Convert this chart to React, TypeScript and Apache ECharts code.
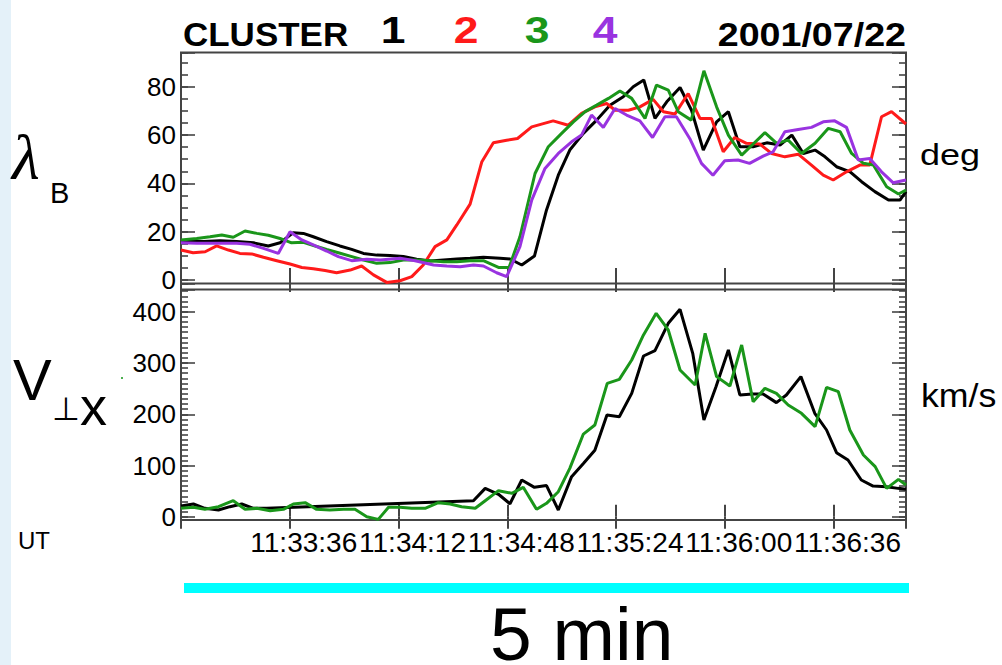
import React, { useEffect, useRef } from 'react';
import * as echarts from 'echarts';

// time axis: seconds after 11:33:00 UT
const xTickLabels = ['11:33:36', '11:34:12', '11:34:48', '11:35:24', '11:36:00', '11:36:36'];
const xTickStep = 36;
const xMin = 0;
const xMax = 240;

// lambda_B (deg)
const lambdaC1: [number, number][] = [[0,16.3],[7.4,15.9],[12.9,16.3],[18.4,15.9],[24,15.4],[28.9,14.1],[32.8,15.4],[37.2,19.6],[40.5,19.3],[43.8,17.9],[48.2,15.9],[52.6,14.1],[56.5,12.7],[60.4,11],[64.8,10.3],[69.2,10.1],[73.6,9.7],[78,8.6],[82.5,7.9],[86.9,8.3],[91.3,8.7],[95.7,9],[100.1,9.4],[105.6,9],[108.9,8.7],[112.8,6.2],[117,9.9],[121,29],[124.9,43.4],[128.7,53.8],[133.2,60.7],[137.6,66.2],[142,72.4],[146.4,75.9],[149.7,80],[153.2,82.8],[156.9,66.9],[160.8,73.8],[165.2,79.7],[169,70.3],[172.9,53.8],[177.3,65.5],[181.2,69.7],[185,55.2],[189.4,55.2],[193.9,56.8],[198.3,55.9],[202.2,60],[206,52.4],[209.9,53.8],[213.2,51],[217,46.9],[221.5,44.8],[225.3,40.7],[229.7,36.6],[234.2,33.1],[238,33.1],[240,36.6]];
const lambdaC2: [number, number][] = [[0,12.4],[4,11.3],[8,11.7],[11.8,14.1],[15.7,12.4],[19.5,11],[23.4,10.8],[27.3,9.4],[31.7,8],[36.1,6.6],[40,5.2],[43.8,4.7],[47.7,3.9],[51.5,3],[56,4.1],[59.8,5.8],[63.7,2.1],[68.1,-1],[72.5,-0.3],[76.4,1.4],[80.2,6.2],[84.1,13.8],[88,16.6],[91.3,22.8],[95.7,31.4],[99.6,49],[103.4,56.8],[107.8,57.9],[111.4,58.6],[116.1,63.4],[123.2,65.9],[128.2,64.1],[132.6,69],[137,71.7],[140.9,73.1],[143.7,70.3],[148.1,70.3],[151.9,71.7],[156.3,74.8],[159.7,69.7],[163.5,68.7],[167.9,77.2],[171.8,66.9],[175.6,66.9],[179.5,53.1],[183.3,59],[187.2,56.6],[191.6,56.3],[195.5,52.4],[199.9,51],[204.3,52.1],[208.7,47.6],[212.6,43.4],[215.9,41.4],[220.3,44.8],[224.7,47.6],[228,47.6],[231.9,67.6],[235.2,69.7],[240,64.6]];
const lambdaC3: [number, number][] = [[0,16.6],[5.2,17.2],[9.6,17.9],[13.5,18.6],[17.3,17.7],[21.2,20.3],[25.1,19.3],[28.9,18.5],[32.8,17.2],[36.6,15.4],[40.5,15.6],[44.4,14.1],[48.2,12.7],[52.1,11.3],[56,9.9],[60.4,8.3],[64.8,6.9],[69.2,7.2],[73.6,8.3],[78,8.3],[82.5,8],[86.9,7.6],[91.3,7.6],[95.7,8],[100.1,8],[105.1,5.2],[108.6,5.2],[112.2,17.9],[117.2,44.1],[121.6,55.2],[126,60.7],[129.9,65.5],[133.8,69.7],[137.6,72.4],[141.5,75.2],[145.3,78.3],[149.2,75.2],[153.6,66.9],[157.4,80.7],[161.3,78.6],[164.6,69.7],[168.9,66.2],[173.1,86.6],[177.3,71.7],[181.2,60],[185.6,51.7],[189.4,56.3],[193.3,61],[197.2,56.6],[201,57.9],[205.4,52.4],[209.9,56.6],[214.3,62.8],[218.2,61.4],[222,52.4],[225.9,48.3],[229.2,47.6],[233.6,38.6],[237.5,35.6],[240,37.2]];
const lambdaC4: [number, number][] = [[0,15.4],[5.2,15.2],[9.6,15.2],[14,15.2],[18.4,15.2],[22.8,14.8],[27.3,13.1],[32.2,11],[36.1,20],[40,16.6],[43.8,14.5],[48.2,12],[52.1,9.7],[56.5,8],[61.5,8.6],[65.9,8.3],[72.5,9],[77.5,8],[83.6,6.2],[88,5.8],[92.4,5.5],[96.8,6.2],[100.1,5.8],[104.5,3],[107.8,1.4],[112.2,13.8],[116.1,33.1],[120.5,46.2],[124.9,52.4],[129.3,57.2],[132.6,60],[135.9,68.3],[139.8,63.2],[143.7,71],[147.5,68.3],[151.9,65.9],[156.1,59],[160.2,67.6],[164,67.6],[168.4,58.6],[172.3,48.3],[176.1,43.4],[180,49.4],[184.4,49.7],[188.2,48.3],[192.7,51.3],[196,53.1],[199.9,61.4],[204.3,62.3],[208.7,63.2],[212.6,65.5],[216.4,65.9],[220.3,63.2],[224.2,49.7],[228,50.3],[231.9,44.8],[235.7,40.3],[240,41.4]];

// V_perp x (km/s)
const vxC1: [number, number][] = [[0,21],[4.1,25],[7.9,16.6],[12.4,13.3],[16.2,19.8],[20.1,25],[24,16.6],[28.4,16.6],[96.8,31.4],[100.7,55.5],[105.1,44],[108.9,25.5],[112.8,71.8],[117,57.5],[121,61],[124.9,13.3],[129.3,78.3],[133.2,104],[137,130],[141,198.6],[145.1,195.3],[149.2,240.8],[153.1,313.6],[156.9,324],[161.3,377.4],[165.2,404.7],[169.4,318.9],[173.1,188.9],[177.1,253.8],[181.2,325.4],[185,237.6],[189.2,239.6],[192.7,239.6],[197.1,222.7],[200.4,237.6],[205.2,273.4],[209.8,201.8],[213.7,169.3],[217,125],[220.8,110.8],[225.2,71.8],[229.1,60],[233.5,58.8],[237.4,55.5],[240,53.6]];
const vxC3: [number, number][] = [[0,16.6],[4.1,18.5],[7.9,14.6],[12.4,19.8],[17.3,31.4],[21.2,14.6],[25.1,16.6],[29.5,12],[33.9,14.6],[37.2,25],[41.1,27.6],[44.9,14.6],[49.3,13.3],[53.8,14.6],[57.6,14.6],[61.5,0.3],[65.3,-5],[68.7,18.5],[72.5,18.5],[76.4,16.6],[80.8,16.6],[85.2,27.6],[89.1,25],[92.9,19.8],[97.4,16.6],[100.7,31.4],[105.1,51],[109.5,45.8],[113.3,57.5],[117.7,14.6],[121,26.3],[124.9,49],[128.7,94.5],[133.2,161.4],[137,179],[141.1,260.3],[145.1,268],[149.2,305.8],[153.1,354.6],[157.3,396.9],[161.3,364.4],[165.2,286.4],[170.2,257.1],[173.5,357.9],[177.3,273.4],[181.7,255.1],[185.6,335.2],[189.4,224.6],[193.3,250.6],[197.1,240.8],[201,218],[205.4,201.8],[209.9,175.8],[213.7,252.5],[217.6,244],[221.4,169.3],[225.9,120.5],[229.8,97.8],[233.6,55.5],[237.5,73.1],[240,62]];

const C_BLACK = '#000000';
const C_RED = '#ff1a1a';
const C_GREEN = '#1a961a';
const C_PURPLE = '#9933e0';
const AXIS_C = '#444444';
const FONT = '"Liberation Sans", Arial, Helvetica, sans-serif';

function xAxis(gridIndex: number, position: string, labels: boolean) {
  return {
    type: 'value', gridIndex, position, min: xMin, max: xMax, interval: xTickStep,
    axisLine: { show: false },
    splitLine: { show: false },
    axisTick: { show: true, inside: true, length: 12, lineStyle: { color: AXIS_C, width: 2 } },
    axisLabel: labels ? {
      show: true, margin: 8, fontSize: 28, color: '#000', fontFamily: FONT,
      padding: [0, 0, 0, 28],
      formatter: (v: number) => {
        const i = Math.round(v / xTickStep) - 1;
        return v > xMin && v < xMax && xTickLabels[i] ? xTickLabels[i] : '';
      },
    } : { show: false },
  };
}

function yAxis(gridIndex: number, position: string, min: number, max: number, step: number, len: number, labels: boolean) {
  return {
    type: 'value', gridIndex, position, min, max, minInterval: step, maxInterval: step, splitNumber: 5,
    axisLine: { show: false },
    splitLine: { show: false },
    axisTick: { show: true, inside: true, length: len, lineStyle: { color: AXIS_C, width: 1.6 } },
    axisLabel: labels ? {
      show: true, margin: 5, fontSize: 26, color: '#000', fontFamily: FONT,
      formatter: (v: number) => (Math.abs(v - Math.round(v / step) * step) < 1e-6 ? String(Math.round(v)) : ''),
    } : { show: false },
  };
}

function line(data: [number, number][], color: string, xi: number, yi: number, z: number) {
  return {
    type: 'line', data, xAxisIndex: xi, yAxisIndex: yi, symbol: 'none', z,
    lineStyle: { color, width: 3 }, itemStyle: { color }, clip: true,
  };
}

function txt(text: string, x: number, y: number, font: string, opts: any = {}) {
  return {
    type: 'text', x, y, scaleX: opts.scaleX ?? 1,
    style: {
      text, font, fill: opts.fill ?? '#000', textAlign: opts.align ?? 'left', textVerticalAlign: 'middle',
      ...(opts.lineHeight ? { lineHeight: opts.lineHeight } : {}),
    },
  };
}

export default function App() {
  const ref = useRef<HTMLDivElement>(null);
  useEffect(() => {
    document.body.style.margin = '0';
    const chart = echarts.init(ref.current!, null, { renderer: 'svg' });
    const option: any = {
      animation: false,
      backgroundColor: '#ffffff',
      grid: [
        { left: 181, top: 52.5, width: 725, height: 231, show: true, borderColor: AXIS_C, borderWidth: 2, backgroundColor: 'transparent' },
        { left: 181, top: 289.5, width: 725, height: 230.5, show: true, borderColor: AXIS_C, borderWidth: 2, backgroundColor: 'transparent' },
      ],
      xAxis: [
        xAxis(0, 'bottom', false),
        xAxis(0, 'top', false),
        xAxis(1, 'bottom', true),
        xAxis(1, 'top', false),
      ],
      yAxis: [
        yAxis(0, 'left', -1.45, 94.2, 5, 7, false),
        yAxis(0, 'left', -1.45, 94.2, 20, 14, true),
        yAxis(0, 'right', -1.45, 94.2, 5, 7, false),
        yAxis(0, 'right', -1.45, 94.2, 20, 14, false),
        yAxis(1, 'left', -6.2, 443.3, 10, 7, false),
        yAxis(1, 'left', -6.2, 443.3, 100, 14, true),
        yAxis(1, 'right', -6.2, 443.3, 10, 7, false),
        yAxis(1, 'right', -6.2, 443.3, 100, 14, false),
      ],
      series: [
        line(lambdaC1, C_BLACK, 0, 1, 2),
        line(lambdaC2, C_RED, 0, 1, 3),
        line(lambdaC3, C_GREEN, 0, 1, 4),
        line(lambdaC4, C_PURPLE, 0, 1, 5),
        line(vxC1, C_BLACK, 2, 5, 2),
        line(vxC3, C_GREEN, 2, 5, 3),
      ],
      graphic: [
        { type: 'rect', shape: { x: 0, y: 0, width: 11, height: 665 }, style: { fill: '#e4f1f9' }, silent: true },
        txt('CLUSTER', 183, 34, `bold 33px ${FONT}`, { scaleX: 1.06 }),
        txt('1', 393, 30, `bold 37px ${FONT}`, { align: 'center', scaleX: 1.2, fill: C_BLACK }),
        txt('2', 466, 30, `bold 37px ${FONT}`, { align: 'center', scaleX: 1.2, fill: C_RED }),
        txt('3', 537, 30, `bold 37px ${FONT}`, { align: 'center', scaleX: 1.2, fill: C_GREEN }),
        txt('4', 605, 30, `bold 37px ${FONT}`, { align: 'center', scaleX: 1.2, fill: C_PURPLE }),
        txt('2001/07/22', 906, 34, `bold 33px ${FONT}`, { align: 'right', scaleX: 1.14 }),
        txt('λ', 12, 157, `italic 64px "Liberation Serif", "DejaVu Serif", serif`),
        txt('B', 50, 193, `29px ${FONT}`),
        txt('V', 13, 379, `58px ${FONT}`),
        txt('⊥', 52, 409, `32px "DejaVu Sans", sans-serif`),
        txt('x', 80, 406, `54px ${FONT}`),
        txt('deg', 920, 155, `30px ${FONT}`, { scaleX: 1.2 }),
        txt('km/s', 921, 395, `34px ${FONT}`, { scaleX: 1.05 }),
        txt('UT', 18, 540, `24px ${FONT}`),
        { type: 'rect', shape: { x: 121, y: 377, width: 2, height: 2 }, style: { fill: '#4caf50' }, silent: true },
        { type: 'rect', shape: { x: 184, y: 583, width: 725, height: 10 }, style: { fill: '#00ffff' }, silent: true },
        txt('5 min', 490, 634, `75px ${FONT}`, { lineHeight: 56 }),
      ],
    };
    chart.setOption(option);
    return () => chart.dispose();
  }, []);
  return <div ref={ref} style={{ width: 1002, height: 665 }} />;
}
